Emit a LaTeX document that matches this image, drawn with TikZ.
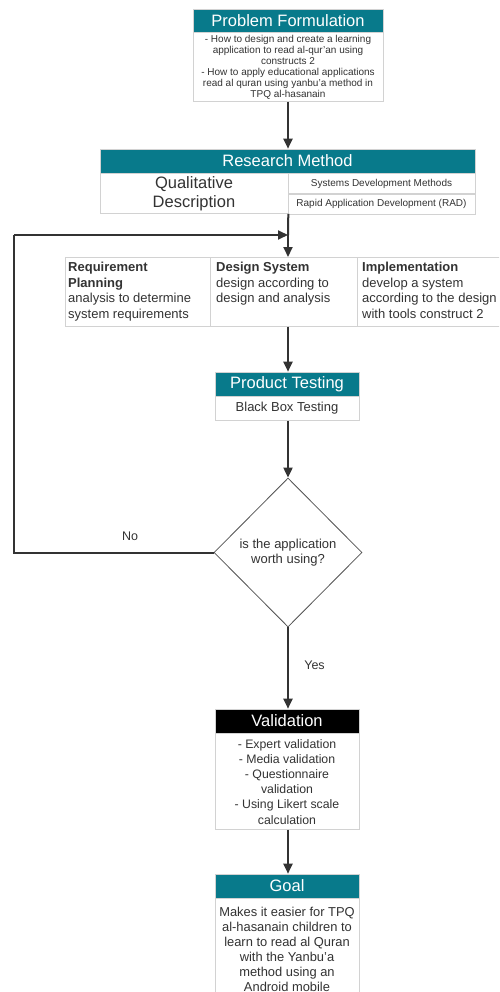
\documentclass[tikz,border=0pt]{standalone}
\usepackage{fontspec}
\setmainfont{Liberation Sans}
\usetikzlibrary{shapes.geometric,arrows.meta}
\definecolor{teal}{RGB}{8,122,139}
\definecolor{ink}{RGB}{51,51,51}
\definecolor{rim}{RGB}{210,210,210}
\tikzset{
  hdr/.style={fill=teal, draw=rim, line width=0.6pt, text=white, inner sep=0pt,
    font=\fontsize{16.5}{18}\selectfont},
  blkhdr/.style={hdr, fill=black},
  body/.style={draw=rim, line width=0.6pt, fill=white, text=ink, inner sep=0pt, align=center},
  flow/.style={draw=ink, line width=2pt, -{Triangle[length=10pt,width=9pt]}},
  plain/.style={draw=ink, line width=2pt},
  lbl/.style={text=ink, font=\fontsize{12.5}{14}\selectfont},
  phasebox/.style={draw=rim, line width=0.6pt, fill=white, inner sep=0pt, minimum height=69, anchor=north west},
  phasetext/.style={text=ink, align=left, inner sep=0pt, anchor=north west, font=\fontsize{13}{15.5}\selectfont},
}
\begin{document}
\begin{tikzpicture}[x=1pt,y=-1pt]
\useasboundingbox (0,0) rectangle (499,992);
\begin{scope}
\clip (0,0) rectangle (499,992);

% Problem formulation
\node[hdr, minimum width=190, minimum height=23] (pfh) at (288,20.5) {Problem Formulation};
\node[body, minimum width=190, minimum height=69, anchor=north, font=\fontsize{10}{11}\selectfont] (pfb) at (pfh.south)
  {- How to design and create a learning\\ application to read al-qur'an using\\ constructs 2\\
   - How to apply educational applications\\ read al quran using yanbu'a method in\\ TPQ al-hasanain};

% Research method
\node[hdr, minimum width=375, minimum height=24] (rmh) at (287.5,161) {Research Method};
\node[body, minimum width=188, minimum height=40, anchor=north west, font=\fontsize{16.5}{18.5}\selectfont] (rmq) at (rmh.south west)
  {Qualitative\\ Description};
\node[body, minimum width=187, minimum height=20, anchor=north east, font=\fontsize{10}{11}\selectfont] (rms) at (rmh.south east)
  {Systems Development Methods};
\node[body, minimum width=187, minimum height=20, anchor=north, font=\fontsize{10}{11}\selectfont] (rmr) at (rms.south)
  {Rapid Application Development (RAD)};

% RAD phases
\node[phasebox, minimum width=145] (req) at (65,257) {};
\node[phasebox, minimum width=147] (des) at (210,257) {};
\node[phasebox, minimum width=160] (imp) at (357,257) {};
\node[phasetext] (reqt) at ([xshift=3pt,yshift=-5pt]req.north west)
  {\textbf{Requirement}\\ \textbf{Planning}\\ analysis to determine\\ system requirements};
\node[phasetext] (dest) at ([xshift=6pt,yshift=-5pt]des.north west)
  {\textbf{Design System}\\ design according to\\ design and analysis};
\node[phasetext] (impt) at ([xshift=5pt,yshift=-5pt]imp.north west)
  {\textbf{Implementation}\\ develop a system\\ according to the design\\ with tools construct 2};

% Product testing
\node[hdr, minimum width=144, minimum height=24] (pth) at (287,384) {Product Testing};
\node[body, minimum width=144, minimum height=24, anchor=north, font=\fontsize{13}{15}\selectfont] (ptb) at (pth.south)
  {Black Box Testing};

% Decision
\node[diamond, draw=ink!85, line width=0.8pt, fill=white, text=ink, align=center, inner sep=0pt,
  minimum width=148, minimum height=149, font=\fontsize{13}{15.5}\selectfont] (dec) at (288,552.5)
  {is the application\\ worth using?};

% Validation
\node[blkhdr, minimum width=144, minimum height=24] (vah) at (287,721) {Validation};
\node[body, minimum width=144, minimum height=96, anchor=north, font=\fontsize{12.3}{15.2}\selectfont] (vab) at (vah.south)
  {- Expert validation\\ - Media validation\\ - Questionnaire\\ validation\\ - Using Likert scale\\ calculation};

% Goal
\node[hdr, minimum width=144, minimum height=24] (goh) at (287,886) {Goal};
\node[body, minimum width=144, minimum height=101, anchor=north, font=\fontsize{12.9}{15}\selectfont] (gob) at (goh.south)
  {Makes it easier for TPQ\\ al-hasanain children to\\ learn to read al Quran\\ with the Yanbu'a\\ method using an\\ Android mobile};

% Connectors
\coordinate (loopa) at (dec.west -| 14,0);
\coordinate (loopb) at (14,235);
\coordinate (join) at (288,235);
\draw[flow] (pfb.south -| 288,0) -- (rmh.north -| 288,0);
\draw[plain] (rmq.south east) -- (join);
\draw[flow] (join) -- (des.north -| 288,0);
\draw[flow] (des.south -| 288,0) -- (pth.north -| 288,0);
\draw[flow] (ptb.south -| 288,0) -- (dec.north);
\draw[plain] (dec.west) -- (loopa) -- (loopb);
\draw[flow] (loopb) -- (join);
\draw[flow] (dec.south) -- (vah.north -| 288,0) node[lbl, pos=0.46, right=12pt] (yes) {Yes};
\draw[flow] (vab.south -| 288,0) -- (goh.north -| 288,0);
\node[lbl] (no) at (130,536) {No};
\end{scope}
\end{tikzpicture}
\end{document}
